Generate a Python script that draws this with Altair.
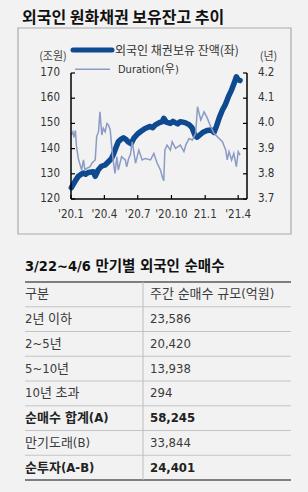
import altair as alt
import pandas as pd

# ---------------- data ----------------
chart_title = "외국인 원화채권 보유잔고 추이"
legend_hold = "외국인 채권보유 잔액(좌)"
legend_dur = "Duration(우)"
unit_left = "(조원)"
unit_right = "(년)"

hold_dates = ["2020-01-02", "2020-01-08", "2020-01-14", "2020-01-21", "2020-02-03", "2020-02-10",
              "2020-02-17", "2020-03-02", "2020-03-07", "2020-03-15", "2020-03-24", "2020-04-03",
              "2020-04-12", "2020-04-20", "2020-04-25", "2020-05-03", "2020-05-09", "2020-05-17",
              "2020-05-23", "2020-05-31", "2020-06-05", "2020-06-13", "2020-06-21", "2020-07-02",
              "2020-07-11", "2020-07-21", "2020-08-04", "2020-08-11", "2020-08-18", "2020-08-29",
              "2020-09-06", "2020-09-10", "2020-09-17", "2020-09-28", "2020-10-05", "2020-10-11",
              "2020-10-18", "2020-10-25", "2020-11-07", "2020-11-18", "2020-11-26", "2020-12-05",
              "2020-12-10", "2020-12-18", "2020-12-26", "2021-01-06", "2021-01-17", "2021-01-25",
              "2021-02-01", "2021-02-09", "2021-02-17", "2021-02-25", "2021-03-05", "2021-03-13",
              "2021-03-21", "2021-03-27", "2021-04-01", "2021-04-06"]
hold_vals = [124.5, 126.0, 127.5, 129.0, 130.3, 129.8,
             130.5, 130.8, 129.0, 131.5, 133.0, 133.5,
             134.8, 136.0, 137.5, 140.5, 142.7, 143.8,
             144.3, 143.5, 142.7, 142.0, 144.3, 146.0,
             147.0, 148.0, 148.8, 148.3, 149.4, 150.3,
             150.7, 152.0, 150.5, 150.0, 150.8, 150.3,
             149.8, 150.7, 150.3, 149.5, 148.3, 145.0,
             144.5, 145.5, 146.5, 147.2, 147.4, 146.4,
             149.0, 152.5, 155.3, 157.5, 160.5, 163.0,
             166.0, 168.5, 167.3, 167.0]

dur_dates = ["2020-01-02", "2020-01-06", "2020-01-09", "2020-01-13", "2020-01-16", "2020-01-21",
             "2020-01-26", "2020-01-30", "2020-02-04", "2020-02-08", "2020-02-13", "2020-02-22",
             "2020-02-27", "2020-03-02", "2020-03-07", "2020-03-11", "2020-03-16", "2020-03-20",
             "2020-03-25", "2020-03-29", "2020-04-03", "2020-04-08", "2020-04-12", "2020-04-17",
             "2020-04-21", "2020-04-26", "2020-04-30", "2020-05-05", "2020-05-09", "2020-05-18",
             "2020-05-28", "2020-06-01", "2020-06-06", "2020-06-11", "2020-06-16", "2020-06-25",
             "2020-07-04", "2020-07-13", "2020-07-22", "2020-08-05", "2020-08-14", "2020-08-23",
             "2020-09-01", "2020-09-06", "2020-09-10", "2020-09-13", "2020-09-19", "2020-09-28",
             "2020-10-03", "2020-10-12", "2020-10-25", "2020-11-04", "2020-11-09", "2020-11-18",
             "2020-11-27", "2020-12-06", "2020-12-11", "2020-12-20", "2020-12-29", "2021-01-07",
             "2021-01-16", "2021-01-25", "2021-02-08", "2021-02-17", "2021-02-26", "2021-03-02",
             "2021-03-07", "2021-03-14", "2021-03-20", "2021-03-27", "2021-04-01", "2021-04-06"]
dur_vals = [3.955, 3.967, 3.945, 3.972, 3.908, 3.860,
            3.835, 3.815, 3.855, 3.815, 3.822, 3.828,
            3.842, 3.848, 3.855, 3.947, 3.967, 4.046,
            3.954, 3.981, 3.967, 4.000, 3.994, 3.974,
            3.908, 3.842, 3.802, 3.868, 3.815, 3.868,
            3.855, 3.828, 3.860, 3.875, 3.927, 3.842,
            3.894, 3.855, 3.861, 3.855, 3.881, 3.842,
            3.815, 3.788, 3.772, 3.894, 3.914, 3.894,
            3.927, 3.901, 3.914, 3.888, 3.914, 3.940,
            3.934, 3.961, 4.066, 4.013, 4.046, 4.020,
            3.987, 3.961, 3.940, 3.927, 3.894, 3.855,
            3.888, 3.855, 3.881, 3.828, 3.888, 3.874]

left_ticks = [120, 130, 140, 150, 160, 170]
right_ticks = [3.7, 3.8, 3.9, 4.0, 4.1, 4.2]
x_tick_dates = ["2020-01-01", "2020-04-01", "2020-07-01", "2020-10-01", "2021-01-01", "2021-04-01"]
x_tick_labels = ["'20.1", "'20.4", "'20.7", "'20.10", "21.1", "'21.4"]

table_title = "3/22~4/6 만기별 외국인 순매수"
table_header = ["구분", "주간 순매수 규모(억원)"]
table_cats = ["2년 이하", "2~5년", "5~10년", "10년 초과", "순매수 합계(A)", "만기도래(B)", "순투자(A-B)"]
table_vals = ["23,586", "20,420", "13,938", "294", "58,245", "33,844", "24,401"]
table_bold = [False, False, False, False, True, False, True]

# ---------------- layout / style ----------------
BG = "#f2f2f2"
KR = "Noto Sans CJK KR, sans-serif"
NARROW = "'Liberation Sans Narrow', 'DejaVu Sans Condensed', 'Liberation Sans', 'Noto Sans CJK KR', sans-serif"
NAVY = "#0e4a8f"
LIGHT = "#8a9bc5"
W, H = 176, 126
PL, PT = 71, 73

xscale = alt.Scale(domain=[alt.DateTime(year=2020, month=1, date=1, utc=True),
                           alt.DateTime(year=2021, month=4, date=25, utc=True)])
ly = alt.Scale(domain=[120, 170], nice=False, zero=False)
ry = alt.Scale(domain=[3.7, 4.2], nice=False, zero=False)
ty = alt.Scale(domain=[-0.5, 7.5], range=[209, 407], nice=False, zero=False)

one = pd.DataFrame({"a": [0]})
hold_df = pd.DataFrame({"date": hold_dates, "v": hold_vals})
dur_df = pd.DataFrame({"date": dur_dates, "v": dur_vals})
lt_df = pd.DataFrame({"t": left_ticks, "lab": [str(t) for t in left_ticks]})
rt_df = pd.DataFrame({"t": right_ticks, "lab": [f"{t:.1f}" for t in right_ticks]})
xt_df = pd.DataFrame({"date": x_tick_dates, "lab": x_tick_labels})

rows = pd.DataFrame({
    "row": list(range(0, len(table_cats) + 1)),
    "c1": [table_header[0]] + table_cats,
    "c2": [table_header[1]] + table_vals,
    "bold": [False] + table_bold,
})
inner_lines = pd.DataFrame({"b": [i + 0.5 for i in range(len(table_cats))]})
outer_lines = pd.DataFrame({"b": [-0.5, len(table_cats) + 0.5]})

layers = []

# panel box
layers.append(alt.Chart(one).mark_rect(fill=BG, stroke="#a9a9a9", strokeWidth=1.2).encode(
    x=alt.value(-53), x2=alt.value(220), y=alt.value(-45), y2=alt.value(161)))
# title
layers.append(alt.Chart(one).mark_text(align="left", baseline="middle", font=KR, fontSize=16,
                                       fontWeight="bold", color="#111").encode(
    x=alt.value(-49), y=alt.value(-55.5), text=alt.value(chart_title)))

# lines
layers.append(alt.Chart(hold_df).mark_line(color=NAVY, strokeWidth=5.5, strokeJoin="round",
                                           strokeCap="round").encode(
    x=alt.X("date:T", scale=xscale, axis=None),
    y=alt.Y("v:Q", scale=ly, axis=None)))
layers.append(alt.Chart(dur_df).mark_line(color=LIGHT, strokeWidth=1.5).encode(
    x=alt.X("date:T", scale=xscale, axis=None),
    y=alt.Y("v:Q", scale=ry, axis=None)))

# axis lines
layers.append(alt.Chart(one).mark_rule(color="#000", strokeWidth=1.5).encode(
    x=alt.value(0), y=alt.value(0), y2=alt.value(H)))
layers.append(alt.Chart(one).mark_rule(color="#000", strokeWidth=1.5).encode(
    x=alt.value(W), y=alt.value(0), y2=alt.value(H)))
layers.append(alt.Chart(one).mark_rule(color="#000", strokeWidth=1.5).encode(
    x=alt.value(0), x2=alt.value(W), y=alt.value(H)))

# ticks (inward)
layers.append(alt.Chart(lt_df).mark_rule(color="#000", strokeWidth=1.2).encode(
    y=alt.Y("t:Q", scale=ly, axis=None), x=alt.value(0), x2=alt.value(4)))
layers.append(alt.Chart(rt_df).mark_rule(color="#000", strokeWidth=1.2).encode(
    y=alt.Y("t:Q", scale=ry, axis=None), x=alt.value(W - 4), x2=alt.value(W)))
layers.append(alt.Chart(xt_df).mark_rule(color="#000", strokeWidth=1.2).encode(
    x=alt.X("date:T", scale=xscale, axis=None), y=alt.value(H - 4), y2=alt.value(H)))

# tick labels
layers.append(alt.Chart(lt_df).mark_text(align="right", baseline="middle", font=NARROW,
                                         fontSize=11.5, color="#333").encode(
    y=alt.Y("t:Q", scale=ly, axis=None), x=alt.value(-11), text="lab:N"))
layers.append(alt.Chart(rt_df).mark_text(align="left", baseline="middle", font=NARROW,
                                         fontSize=11.5, color="#333").encode(
    y=alt.Y("t:Q", scale=ry, axis=None), x=alt.value(W + 11), text="lab:N"))
layers.append(alt.Chart(xt_df).mark_text(align="center", baseline="middle", font=NARROW,
                                         fontSize=11.5, color="#333").encode(
    x=alt.X("date:T", scale=xscale, axis=None), y=alt.value(H + 16), text="lab:N"))

# units
layers.append(alt.Chart(one).mark_text(align="center", baseline="middle", font=KR,
                                       fontSize=11, color="#444").encode(
    x=alt.value(-18), y=alt.value(-16.5), text=alt.value(unit_left)))
layers.append(alt.Chart(one).mark_text(align="center", baseline="middle", font=KR,
                                       fontSize=11, color="#444").encode(
    x=alt.value(197.5), y=alt.value(-16.5), text=alt.value(unit_right)))

# legend
layers.append(alt.Chart(one).mark_rule(color=NAVY, strokeWidth=5, strokeCap="round").encode(
    x=alt.value(2), x2=alt.value(41), y=alt.value(-23)))
layers.append(alt.Chart(one).mark_text(align="left", baseline="middle", font=KR,
                                       fontSize=12, color="#333").encode(
    x=alt.value(44), y=alt.value(-22), text=alt.value(legend_hold)))
layers.append(alt.Chart(one).mark_rule(color=LIGHT, strokeWidth=1.5).encode(
    x=alt.value(4), x2=alt.value(39), y=alt.value(-3.7)))
layers.append(alt.Chart(one).mark_text(align="left", baseline="middle", font=NARROW,
                                       fontSize=11, color="#333").encode(
    x=alt.value(47), y=alt.value(-3.5), text=alt.value(legend_dur)))

# table title
layers.append(alt.Chart(one).mark_text(align="left", baseline="middle", font=NARROW,
                                       fontSize=14.5, fontWeight="bold", color="#111").encode(
    x=alt.value(-46), y=alt.value(193.7), text=alt.value(table_title)))

# table lines
layers.append(alt.Chart(inner_lines).mark_rule(color="#c4c4c4", strokeWidth=1).encode(
    y=alt.Y("b:Q", scale=ty, axis=None), x=alt.value(-46), x2=alt.value(220)))
layers.append(alt.Chart(outer_lines).mark_rule(color="#7f7f7f", strokeWidth=1.8).encode(
    y=alt.Y("b:Q", scale=ty, axis=None), x=alt.value(-46), x2=alt.value(220)))
layers.append(alt.Chart(one).mark_rule(color="#bdbdbd", strokeWidth=1).encode(
    x=alt.value(72), y=alt.value(209), y2=alt.value(407)))

# table text
for bold in (False, True):
    base = alt.Chart(rows).transform_filter(
        alt.datum.bold if bold else ~alt.datum.bold)
    kw = dict(align="left", baseline="middle", font=NARROW, fontSize=13,
              color="#222" if bold else "#3a3a3a")
    if bold:
        kw["fontWeight"] = "bold"
    layers.append(base.mark_text(**kw).encode(
        y=alt.Y("row:Q", scale=ty, axis=None), x=alt.value(-46), text="c1:N"))
    layers.append(base.mark_text(**kw).encode(
        y=alt.Y("row:Q", scale=ty, axis=None), x=alt.value(79), text="c2:N"))

chart = alt.layer(*layers).resolve_scale(y="independent").properties(
    width=W, height=H,
    padding={"left": PL, "top": PT, "right": 308 - PL - W, "bottom": 492 - PT - H},
    autosize=alt.AutoSizeParams(type="none"),
    background=BG,
).configure_view(stroke=None)

chart.save("out.html", embed_options={"renderer": "svg", "actions": False})
